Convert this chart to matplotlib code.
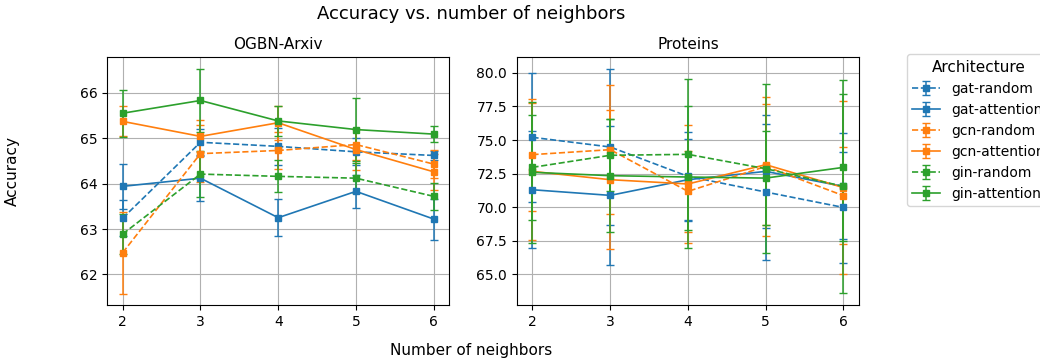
import matplotlib.pyplot as plt

neighbors = [2, 3, 4, 5, 6]
series = ['gat-random', 'gat-attention', 'gcn-random', 'gcn-attention', 'gin-random', 'gin-attention']
colors = ['#1f77b4', '#1f77b4', '#ff7f0e', '#ff7f0e', '#2ca02c', '#2ca02c']
styles = ['--', '-', '--', '-', '--', '-']

# OGBN-Arxiv
arxiv_mean = {
    'gat-random':    [63.24, 64.91, 64.82, 64.70, 64.62],
    'gat-attention': [63.94, 64.12, 63.25, 63.83, 63.22],
    'gcn-random':    [62.48, 64.66, 64.73, 64.86, 64.43],
    'gcn-attention': [65.37, 65.04, 65.34, 64.75, 64.26],
    'gin-random':    [62.89, 64.21, 64.16, 64.12, 63.72],
    'gin-attention': [65.55, 65.83, 65.38, 65.19, 65.09],
}
arxiv_err = {
    'gat-random':    [0.39, 0.30, 0.40, 0.30, 0.10],
    'gat-attention': [0.50, 0.50, 0.41, 0.37, 0.45],
    'gcn-random':    [0.90, 0.63, 0.40, 0.35, 0.30],
    'gcn-attention': [0.33, 0.35, 0.37, 0.45, 0.40],
    'gin-random':    [0.45, 0.50, 0.35, 0.33, 0.30],
    'gin-attention': [0.52, 0.70, 0.33, 0.70, 0.17],
}

# Proteins
prot_mean = {
    'gat-random':    [75.20, 74.48, 72.29, 71.12, 69.97],
    'gat-attention': [71.29, 70.87, 72.04, 72.66, 71.54],
    'gcn-random':    [73.91, 74.28, 71.17, 73.03, 70.85],
    'gcn-attention': [72.66, 72.04, 71.72, 73.16, 71.45],
    'gin-random':    [72.96, 73.86, 73.93, 72.86, 71.54],
    'gin-attention': [72.59, 72.34, 72.24, 72.16, 72.96],
}
prot_err = {
    'gat-random':    [4.80, 5.80, 3.30, 5.08, 4.13],
    'gat-attention': [4.36, 5.20, 3.00, 4.19, 3.96],
    'gcn-random':    [4.17, 4.80, 3.03, 5.20, 3.60],
    'gcn-attention': [5.10, 5.20, 4.42, 4.50, 6.45],
    'gin-random':    [3.90, 2.70, 5.62, 6.30, 7.95],
    'gin-attention': [5.26, 4.20, 5.30, 3.50, 5.50],
}

fig = plt.figure(figsize=(10.4, 3.6), dpi=100)
ax1 = fig.add_axes([0.103, 0.153, 0.329, 0.689])
ax2 = fig.add_axes([0.497, 0.153, 0.329, 0.689])

for ax, means, errs, title in [(ax1, arxiv_mean, arxiv_err, 'OGBN-Arxiv'),
                               (ax2, prot_mean, prot_err, 'Proteins')]:
    for name, c, ls in zip(series, colors, styles):
        ax.errorbar(neighbors, means[name], yerr=errs[name], color=c, linestyle=ls,
                    marker='s', markersize=5, linewidth=1.2, elinewidth=1.1,
                    capsize=3, label=name)
    ax.set_title(title, fontsize=11)
    ax.set_xticks(neighbors)
    ax.grid(True, color='#b0b0b0', linewidth=0.8)

ax1.set_ylim(61.33, 66.79)
ax1.set_yticks([62, 63, 64, 65, 66])
ax2.set_ylim(62.7, 81.2)

ax2.legend(title='Architecture', loc='upper left', bbox_to_anchor=(1.14, 1.01),
           borderaxespad=0, fontsize=10, title_fontsize=11)

fig.suptitle('Accuracy vs. number of neighbors', x=0.453, fontsize=13, y=0.985)
fig.text(0.453, 0.015, 'Number of neighbors', ha='center', fontsize=11)
fig.text(0.005, 0.525, 'Accuracy', va='center', rotation=90, fontsize=11)

plt.savefig('out.png', dpi=100)
